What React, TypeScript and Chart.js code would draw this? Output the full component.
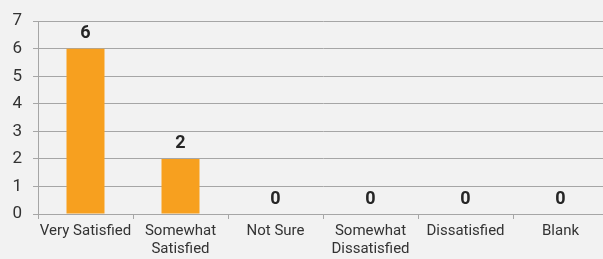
import React, { useEffect, useRef } from "react";
import { Chart, registerables } from "chart.js";

Chart.register(...registerables);

const categories: (string | string[])[] = [
  "Very Satisfied",
  ["Somewhat", "Satisfied"],
  "Not Sure",
  ["Somewhat", "Dissatisfied"],
  "Dissatisfied",
  "Blank",
];
const responses = [6, 2, 0, 0, 0, 0];
const yTicks = [0, 1, 2, 3, 4, 5, 6, 7];

const FONT = "Roboto, 'Liberation Sans', sans-serif";

const valueLabels = {
  id: "valueLabels",
  afterDatasetsDraw(chart: any) {
    const ctx = chart.ctx;
    const meta = chart.getDatasetMeta(0);
    ctx.save();
    ctx.font = `bold 18px ${FONT}`;
    ctx.fillStyle = "#262626";
    ctx.textAlign = "center";
    ctx.textBaseline = "bottom";
    meta.data.forEach((bar: any, i: number) => {
      ctx.fillText(String(chart.data.datasets[0].data[i]), bar.x, bar.y - 6);
    });
    ctx.restore();
  },
};

const bgPlugin = {
  id: "bg",
  beforeDraw(chart: any) {
    const ctx = chart.ctx;
    ctx.save();
    ctx.fillStyle = "#f2f2f2";
    ctx.fillRect(0, 0, chart.width, chart.height);
    ctx.restore();
  },
};

export default function App() {
  const ref = useRef<HTMLCanvasElement | null>(null);
  useEffect(() => {
    if (!ref.current) return;
    const chart = new Chart(ref.current, {
      type: "bar",
      data: {
        labels: categories,
        datasets: [
          {
            data: responses,
            backgroundColor: "#f7a01f",
            barPercentage: 0.4,
            categoryPercentage: 1,
          },
        ],
      },
      options: {
        animation: false,
        responsive: true,
        maintainAspectRatio: false,
        layout: { padding: { top: 17, left: 0, right: 0, bottom: 0 } },
        plugins: { legend: { display: false }, tooltip: { enabled: false }, title: { display: false } },
        scales: {
          x: {
            grid: { drawOnChartArea: false, drawTicks: true, tickLength: 5, color: "#a6a6a6", offset: true },
            border: { display: true, color: "#a6a6a6" },
            ticks: { color: "#333", font: { family: FONT, size: 15, lineHeight: 1.15 }, padding: 4, maxRotation: 0, autoSkip: false },
            afterFit: (s: any) => { s.height = 45; },
          },
          y: {
            min: 0,
            max: 7,
            afterBuildTicks: (s: any) => { s.ticks = yTicks.map((v) => ({ value: v })); },
            grid: { color: "#a6a6a6", tickLength: 5 },
            border: { display: true, color: "#a6a6a6" },
            ticks: { color: "#333", font: { family: FONT, size: 17 }, padding: 11 },
            afterFit: (s: any) => { s.width = 38; },
          },
        },
      },
      plugins: [bgPlugin, valueLabels],
    });
    return () => chart.destroy();
  }, []);
  return (
    <div style={{ position: "absolute", left: 0, top: 0, width: 603, height: 259, overflow: "hidden", background: "#f2f2f2" }}>
      <div style={{ width: 608, height: 259 }}>
        <canvas ref={ref} />
      </div>
    </div>
  );
}
